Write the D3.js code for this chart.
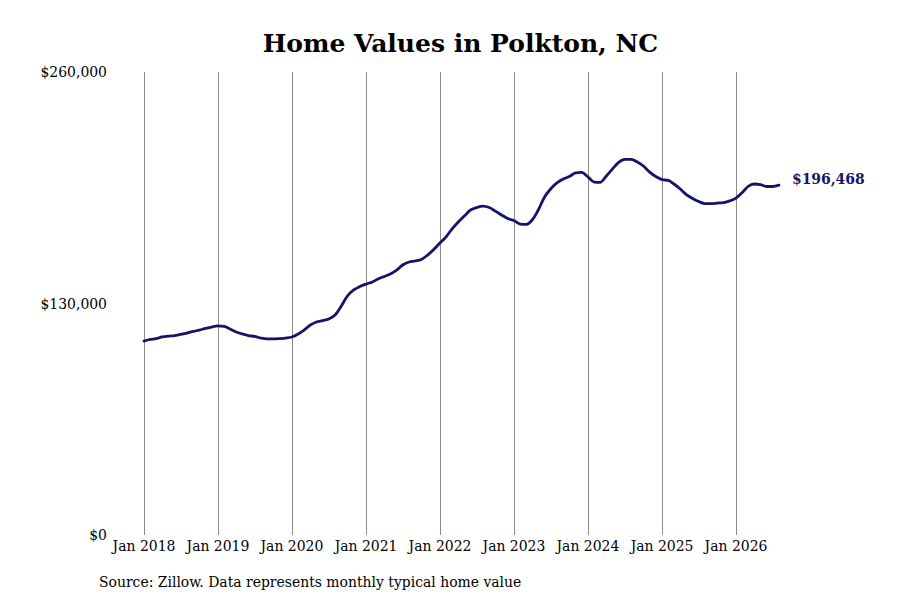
<!DOCTYPE html>
<html><head><meta charset="utf-8">
<script src="https://cdn.jsdelivr.net/npm/d3@7"></script>
<style>body{margin:0;background:#fff}</style>
</head><body><svg id="c" width="900" height="600"></svg>
<script>
const title = "Home Values in Polkton, NC";
const source = "Source: Zillow. Data represents monthly typical home value";
const startMonth = "2018-01";
// monthly typical home value (thousands USD), Jan 2018 .. Aug 2026
const values = [
 108.9,109.8,110.3,111.2,111.7,112.0,112.6,113.4,114.3,115.1,116.0,116.8,
 117.4,117.1,115.7,114.0,112.9,112.0,111.5,110.6,110.1,110.1,110.3,110.6,
 111.2,112.9,115.1,117.9,119.6,120.4,121.3,123.5,128.6,134.2,137.6,139.5,
 140.9,142.1,143.8,145.2,146.6,148.8,151.6,153.3,153.9,154.7,157.2,160.3,
 164.0,167.6,171.8,175.8,179.1,182.5,183.9,184.7,183.9,181.9,179.7,177.7,
 176.6,174.6,174.4,176.9,182.5,189.8,194.3,197.7,199.9,201.3,203.3,203.6,
 201.1,198.2,198.0,201.6,205.5,209.2,210.9,210.9,209.5,207.2,203.8,201.3,
 199.6,199.1,197.1,194.3,191.2,189.0,187.3,186.1,186.1,186.4,186.7,187.6,
 189.2,192.3,195.7,197.1,196.8,195.7,195.7,196.468
];
const yTicks = [0, 130000, 260000];
const xTickYears = [2018,2019,2020,2021,2022,2023,2024,2025,2026];

const svg = d3.select("#c");
const serif = "'DejaVu Serif Condensed','DejaVu Serif',serif";
const fs = 15.5;
const t0 = d3.timeParse("%Y-%m")(startMonth);
const data = values.map((v,i)=>({date:d3.timeMonth.offset(t0,i), value:v*1000}));

const x = d3.scaleTime().domain([new Date(2018,0,1), new Date(2026,0,1)]).range([144,736]);
const y = d3.scaleLinear().domain([0,260000]).range([535,72]);

svg.append("text").attr("x",460.5).attr("y",52).attr("text-anchor","middle")
  .attr("font-family","'DejaVu Serif',serif").attr("font-weight","bold").attr("font-size",25)
  .attr("fill","#000").text(title);

// vertical grid lines
const xTicks = xTickYears.map(yr=>new Date(yr,0,1));
svg.append("g").selectAll("line").data(xTicks).join("line")
  .attr("x1",d=>Math.round(x(d))+0.5).attr("x2",d=>Math.round(x(d))+0.5).attr("y1",y(260000)).attr("y2",y(0))
  .attr("stroke","#8c8c8c").attr("stroke-width",1);

// x labels
svg.append("g").selectAll("text").data(xTicks).join("text")
  .attr("x",d=>x(d)).attr("y",551).attr("text-anchor","middle")
  .attr("font-family",serif).attr("font-size",fs).attr("fill","#000")
  .text(d3.timeFormat("Jan %Y"));

// y labels
const fmt = v=>"$"+d3.format(",")(v);
svg.append("g").selectAll("text").data(yTicks).join("text")
  .attr("x",107).attr("y",d=>y(d)).attr("dy","0.35em").attr("text-anchor","end")
  .attr("font-family",serif).attr("font-size",fs).attr("fill","#000")
  .text(fmt);

const line = d3.line().x(d=>x(d.date)).y(d=>y(d.value)).curve(d3.curveMonotoneX);
svg.append("path").datum(data).attr("d",line).attr("fill","none")
  .attr("stroke","#15146b").attr("stroke-width",2.8).attr("stroke-linejoin","round").attr("stroke-linecap","round");

const last = data[data.length-1];
svg.append("text").attr("x",x(last.date)+13).attr("y",y(last.value)).attr("dy","-0.05em")
  .attr("font-family",serif).attr("font-weight","bold").attr("font-size",fs).attr("fill","#15146b")
  .text("$"+d3.format(",")(Math.round(last.value)));

svg.append("text").attr("x",99).attr("y",587)
  .attr("font-family",serif).attr("font-size",fs).attr("fill","#000").text(source);
</script></body></html>
